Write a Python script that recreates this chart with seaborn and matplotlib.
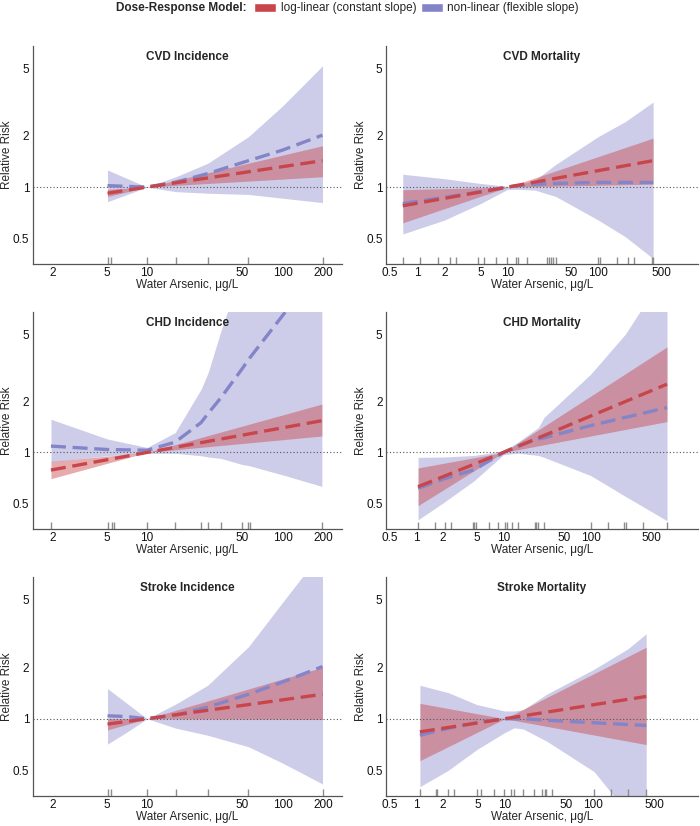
import seaborn as sns
import matplotlib.pyplot as plt
from matplotlib.patches import Patch
from matplotlib.ticker import NullLocator

sns.set_theme(style="white")
plt.rcParams['font.family'] = ['Liberation Sans', 'DejaVu Sans']

RED = '#C8464B'
BLUE = '#8484C8'

# ---- CVD incidence ----
cvd_inc_red_x = [5.1, 10, 197]
cvd_inc_red = [0.92, 1.0, 1.43]
cvd_inc_red_lo = [0.88, 1.0, 1.15]
cvd_inc_red_hi = [0.97, 1.0, 1.75]
cvd_inc_blue_x = [5.1, 7, 10, 16.3, 28, 56, 100, 197]
cvd_inc_blue = [1.02, 1.01, 1.0, 1.07, 1.20, 1.43, 1.65, 2.02]
cvd_inc_blue_lo = [0.82, 0.90, 1.0, 0.94, 0.92, 0.905, 0.86, 0.81]
cvd_inc_blue_hi = [1.26, 1.13, 1.0, 1.15, 1.38, 1.98, 3.0, 5.16]
cvd_inc_rug = [5.1, 5.4, 10, 16.3, 28, 56, 197]

# ---- CVD mortality ----
cvd_mort_red_x = [0.69, 10, 405]
cvd_mort_red = [0.776, 1.0, 1.43]
cvd_mort_red_lo = [0.616, 1.0, 1.04]
cvd_mort_red_hi = [0.965, 1.0, 1.94]
cvd_mort_blue_x = [0.69, 2, 5, 10, 13, 20, 34, 100, 200, 405]
cvd_mort_blue = [0.80, 0.87, 0.94, 1.0, 1.02, 1.04, 1.05, 1.065, 1.065, 1.065]
cvd_mort_blue_lo = [0.53, 0.64, 0.80, 0.97, 0.97, 0.96, 0.88, 0.64, 0.51, 0.38]
cvd_mort_blue_hi = [1.19, 1.12, 1.05, 1.01, 1.03, 1.10, 1.36, 1.98, 2.43, 3.16]
cvd_mort_rug = [0.69, 1.07, 1.71, 2.30, 2.68, 4.72, 5.46, 7.4, 9.9, 12.3, 13,
                16.4, 26.9, 28.3, 29.8, 31.9, 34.1, 100, 104, 162, 211, 248,
                389, 405]

# ---- CHD incidence ----
chd_inc_red_x = [1.95, 10, 195]
chd_inc_red = [0.787, 1.0, 1.54]
chd_inc_red_lo = [0.70, 1.0, 1.25]
chd_inc_red_hi = [0.885, 1.0, 1.93]
chd_inc_blue_x = [1.95, 5.1, 10, 16.1, 25, 28.2, 35, 50, 57, 104, 195]
chd_inc_blue = [1.09, 1.04, 1.03, 1.15, 1.50, 1.70, 2.1, 3.1, 3.6, 6.7, 14]
chd_inc_blue_lo = [0.88, 0.956, 0.987, 0.987, 0.956, 0.94, 0.922, 0.85, 0.834, 0.73, 0.63]
chd_inc_blue_hi = [1.57, 1.2, 1.07, 1.31, 2.36, 2.96, 5.2, 12, 15, 30, 80]
chd_inc_rug = [1.95, 5.1, 5.5, 5.7, 10, 16.1, 25, 28.2, 35, 50, 56, 57, 195]

# ---- CHD mortality ----
chd_mort_red_x = [1.05, 10, 750]
chd_mort_red = [0.628, 1.0, 2.53]
chd_mort_red_lo = [0.485, 1.0, 1.52]
chd_mort_red_hi = [0.81, 1.0, 4.2]
chd_mort_blue_x = [1.05, 2.11, 4.6, 10, 14.6, 25, 29.2, 100, 250, 750]
chd_mort_blue = [0.614, 0.70, 0.79, 1.0, 1.09, 1.20, 1.22, 1.44, 1.61, 1.84]
chd_mort_blue_lo = [0.40, 0.51, 0.68, 0.97, 0.99, 0.96, 0.935, 0.73, 0.55, 0.395]
chd_mort_blue_hi = [0.935, 0.94, 0.96, 1.02, 1.15, 1.40, 1.61, 2.9, 5.0, 12]
chd_mort_rug = [1.05, 1.66, 2.11, 2.5, 4.42, 4.6, 4.84, 6.8, 8.6, 10.4, 10.9,
                12.5, 14.6, 22.7, 23.9, 25.1, 29.2, 100, 160, 241, 255, 402, 750]

# ---- Stroke incidence ----
str_inc_red_x = [5.1, 10, 197]
str_inc_red = [0.93, 1.0, 1.39]
str_inc_red_lo = [0.86, 1.0, 0.99]
str_inc_red_hi = [1.0, 1.0, 2.0]
str_inc_blue_x = [5.1, 7, 10, 16.3, 28, 56, 100, 197]
str_inc_blue = [1.04, 1.03, 1.0, 1.05, 1.17, 1.39, 1.64, 2.02]
str_inc_blue_lo = [0.71, 0.83, 1.0, 0.88, 0.80, 0.685, 0.55, 0.415]
str_inc_blue_hi = [1.5, 1.24, 1.0, 1.22, 1.57, 2.64, 4.8, 9.6]
str_inc_rug = [5.1, 5.4, 10, 16.3, 28, 56, 197]

# ---- Stroke mortality ----
str_mort_red_x = [1.09, 10, 401]
str_mort_red = [0.838, 1.0, 1.35]
str_mort_red_lo = [0.568, 1.0, 0.706]
str_mort_red_hi = [1.23, 1.0, 2.62]
str_mort_blue_x = [1.09, 2.3, 4.82, 10, 12.8, 16.2, 29.7, 103, 247, 401]
str_mort_blue = [0.80, 0.88, 0.95, 1.0, 1.0, 1.0, 0.98, 0.947, 0.925, 0.913]
str_mort_blue_lo = [0.40, 0.50, 0.66, 0.83, 0.885, 0.87, 0.74, 0.49, 0.28, 0.20]
str_mort_blue_hi = [1.57, 1.42, 1.21, 1.11, 1.11, 1.13, 1.39, 1.95, 2.56, 3.14]
str_mort_rug = [1.09, 1.65, 1.72, 2.3, 2.67, 4.82, 5.4, 7.55, 9.7, 11.9, 12.8,
                16.2, 21.7, 26.7, 28.2, 29.7, 34.2, 103, 159, 247, 401]

left_ticks = [2, 5, 10, 50, 100, 200]
left_labels = ['2', '5', '10', '50', '100', '200']
right_ticks = [0.5, 1, 2, 5, 10, 50, 100, 500]
right_labels = ['0.5', '1', '2', '5', '10', '50', '100', '500']
y_ticks = [0.5, 1, 2, 5]
y_labels = ['0.5', '1', '2', '5']

W, H = 700, 826
fig = plt.figure(figsize=(W / 100, H / 100), dpi=100)


def make_ax(x0, x1, top, bottom):
    return fig.add_axes([x0 / W, 1 - bottom / H, (x1 - x0) / W, (bottom - top) / H])


def draw(ax, title, red_x, red, red_lo, red_hi, blue_x, blue, blue_lo, blue_hi,
         rug, ticks, labels, xlim, ylab_px):
    ax.set_xscale('log')
    ax.set_yscale('log')
    ax.fill_between(blue_x, blue_lo, blue_hi, color=BLUE, alpha=0.4, lw=0, zorder=1)
    ax.fill_between(red_x, red_lo, red_hi, color=RED, alpha=0.45, lw=0, zorder=2)
    ax.axhline(1, color='#555555', lw=0.8, ls=(0, (1, 2)), zorder=3)
    sns.lineplot(x=blue_x, y=blue, ax=ax, color=BLUE, lw=2.4,
                 linestyle=(0, (4.5, 2)), zorder=4)
    sns.lineplot(x=red_x, y=red, ax=ax, color=RED, lw=2.4,
                 linestyle=(0, (4.5, 2)), zorder=5)
    sns.rugplot(x=rug, ax=ax, height=0.032, color='#8c8c8c', lw=1,
                expand_margins=False)
    ax.set_xlim(xlim)
    ax.set_ylim(0.353, 6.75)
    ax.set_xticks(ticks)
    ax.set_xticklabels(labels)
    ax.set_yticks(y_ticks)
    ax.set_yticklabels(y_labels)
    ax.xaxis.set_minor_locator(NullLocator())
    ax.yaxis.set_minor_locator(NullLocator())
    ax.tick_params(length=0, labelsize=8.5, pad=2.5, colors='#111111')
    for s in ['top', 'right']:
        ax.spines[s].set_visible(False)
    for s in ['left', 'bottom']:
        ax.spines[s].set_color('#555555')
        ax.spines[s].set_linewidth(0.9)
    ax.text(0.5, 0.951, title, transform=ax.transAxes, ha='center', va='center',
            fontweight='bold', fontsize=8.5)
    ax.set_xlabel('Water Arsenic, μg/L', fontsize=8.5, labelpad=0)
    ax.set_ylabel('Relative Risk', fontsize=8.5)
    # place the y label by its right edge, in pixels left of the spine
    ax.yaxis.set_label_coords(-ylab_px / ax.bbox.width, 0.5)


rows = [(46, 264), (312, 529), (577, 796)]

ax = make_ax(32.7, 341.7, *rows[0])
draw(ax, 'CVD Incidence', cvd_inc_red_x, cvd_inc_red, cvd_inc_red_lo, cvd_inc_red_hi,
     cvd_inc_blue_x, cvd_inc_blue, cvd_inc_blue_lo, cvd_inc_blue_hi, cvd_inc_rug,
     left_ticks, left_labels, (1.43, 273), 20)

ax = make_ax(386, 698, *rows[0])
draw(ax, 'CVD Mortality', cvd_mort_red_x, cvd_mort_red, cvd_mort_red_lo, cvd_mort_red_hi,
     cvd_mort_blue_x, cvd_mort_blue, cvd_mort_blue_lo, cvd_mort_blue_hi, cvd_mort_rug,
     right_ticks, right_labels, (0.45, 1270), 19)

ax = make_ax(32.7, 341.7, *rows[1])
draw(ax, 'CHD Incidence', chd_inc_red_x, chd_inc_red, chd_inc_red_lo, chd_inc_red_hi,
     chd_inc_blue_x, chd_inc_blue, chd_inc_blue_lo, chd_inc_blue_hi, chd_inc_rug,
     left_ticks, left_labels, (1.43, 273), 20)

ax = make_ax(386, 698, *rows[1])
draw(ax, 'CHD Mortality', chd_mort_red_x, chd_mort_red, chd_mort_red_lo, chd_mort_red_hi,
     chd_mort_blue_x, chd_mort_blue, chd_mort_blue_lo, chd_mort_blue_hi, chd_mort_rug,
     right_ticks, right_labels, (0.45, 1700), 19)

ax = make_ax(32.7, 341.7, *rows[2])
draw(ax, 'Stroke Incidence', str_inc_red_x, str_inc_red, str_inc_red_lo, str_inc_red_hi,
     str_inc_blue_x, str_inc_blue, str_inc_blue_lo, str_inc_blue_hi, str_inc_rug,
     left_ticks, left_labels, (1.43, 273), 20)

ax = make_ax(386, 698, *rows[2])
draw(ax, 'Stroke Mortality', str_mort_red_x, str_mort_red, str_mort_red_lo, str_mort_red_hi,
     str_mort_blue_x, str_mort_blue, str_mort_blue_lo, str_mort_blue_hi, str_mort_rug,
     right_ticks, right_labels, (0.45, 1550), 19)

# legend along the top
fig.text(247 / W, 1 - 8.5 / H, 'Dose-Response Model:', ha='right', va='center',
         fontweight='bold', fontsize=8.5)
handles = [Patch(facecolor=RED, label='log-linear (constant slope)'),
           Patch(facecolor=BLUE, label='non-linear (flexible slope)')]
fig.legend(handles=handles, loc='center left', bbox_to_anchor=(254 / W, 1 - 8.5 / H),
           ncol=2, frameon=False, fontsize=8.5, handlelength=1.9, handleheight=0.7,
           handletextpad=0.35, columnspacing=0.4, borderaxespad=0, borderpad=0)

fig.savefig('out.png', dpi=100)
